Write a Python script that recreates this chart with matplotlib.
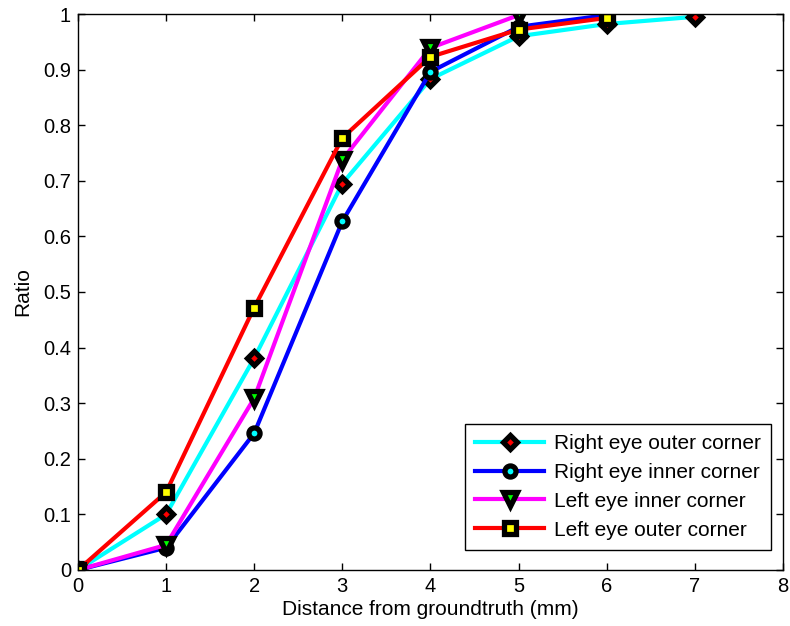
import matplotlib
matplotlib.use("Agg")
import matplotlib.pyplot as plt

plt.rcParams['font.family'] = ['Liberation Sans', 'DejaVu Sans']

labels = ["Right eye outer corner", "Right eye inner corner",
          "Left eye inner corner", "Left eye outer corner"]
x_rout = [0, 1, 2, 3, 4, 5, 6, 7]
y_rout = [0, 0.10, 0.381, 0.695, 0.883, 0.960, 0.982, 0.995]
x_rin = [0, 1, 2, 3, 4, 5, 6]
y_rin = [0, 0.040, 0.246, 0.627, 0.896, 0.977, 0.998]
x_lin = [0, 1, 2, 3, 4, 5]
y_lin = [0, 0.045, 0.309, 0.738, 0.939, 0.998]
x_lout = [0, 1, 2, 3, 4, 5, 6]
y_lout = [0, 0.140, 0.472, 0.777, 0.923, 0.972, 0.993]

xs = [x_rout, x_rin, x_lin, x_lout]
ys = [y_rout, y_rin, y_lin, y_lout]
line_colors = ['#00ffff', '#0000ff', '#ff00ff', '#ff0000']
face_colors = ['#ff0000', '#00ffff', '#00ff00', '#ffff00']
markers = ['D', 'o', 'v', 's']
msizes = [7.5, 8, 9.5, 8]

fig = plt.figure(figsize=(7.9, 6.26), dpi=100)
ax = fig.add_axes([0.0987, 0.0895, 0.8923, 0.8881])

for x, y, lc, fc, m, ms, lab in zip(xs, ys, line_colors, face_colors, markers, msizes, labels):
    ax.plot(x, y, color=lc, lw=3, marker=m, markersize=ms,
            markerfacecolor=fc, markeredgecolor='black', markeredgewidth=3.8,
            label=lab)

ax.set_xlim(0, 8)
ax.set_ylim(0, 1)
ax.set_xticks(range(0, 9))
ax.set_xticklabels([str(i) for i in range(0, 9)])
yt = [i / 10 for i in range(11)]
ax.set_yticks(yt)
ax.set_yticklabels(["0"] + ["%.1f" % v for v in yt[1:-1]] + ["1"])
ax.tick_params(direction='in', top=True, right=True, labelsize=14.5, length=5, width=1, pad=5)
for s in ax.spines.values():
    s.set_linewidth(1)
ax.set_xlabel("Distance from groundtruth (mm)", fontsize=15, labelpad=3)
ax.set_ylabel("Ratio", fontsize=15, labelpad=8)

leg = ax.legend(loc='lower right', fontsize=15, handlelength=3.3,
                fancybox=False, edgecolor='black', framealpha=1,
                borderpad=0.5, labelspacing=0.47, handletextpad=0.45,
                borderaxespad=0, bbox_to_anchor=(0.983, 0.036))
leg.get_frame().set_linewidth(1)

fig.savefig("out.png", dpi=100)
